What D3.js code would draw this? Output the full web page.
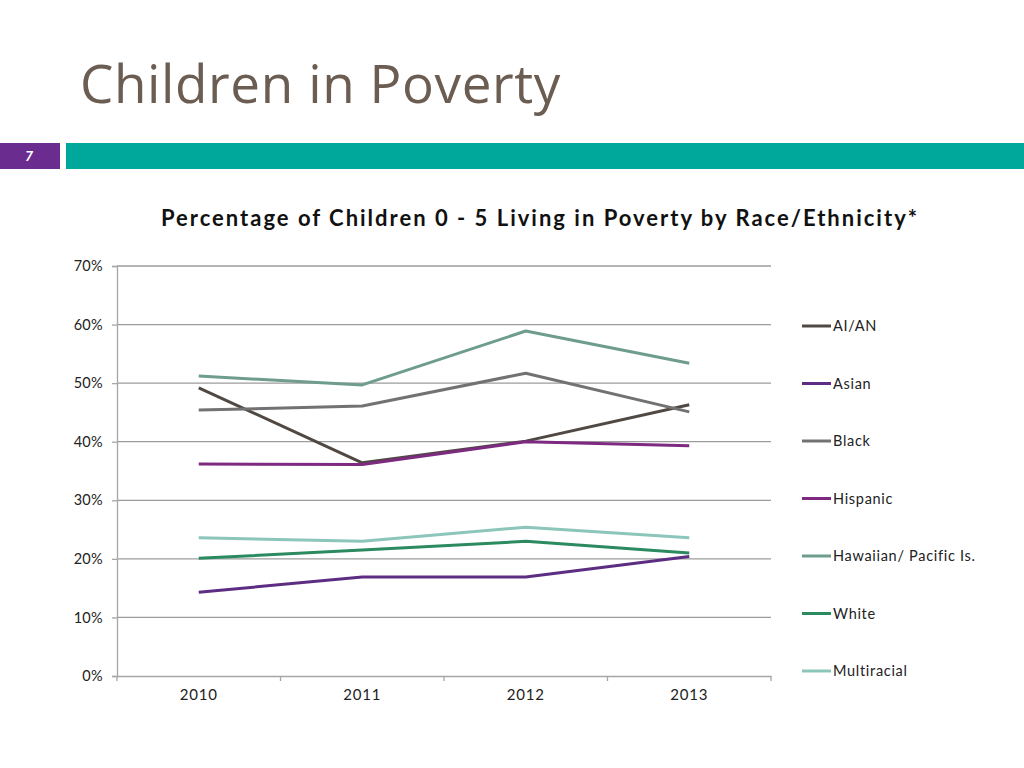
<!DOCTYPE html>
<html><head><meta charset="utf-8">
<script src="https://cdn.jsdelivr.net/npm/d3@7"></script>
<style>body{margin:0;background:#fff;}svg{display:block;}</style>
</head><body>
<svg id="c" width="1024" height="768"></svg>
<script>
const years = ["2010","2011","2012","2013"];
const seriesNames = ["AI/AN","Asian","Black","Hispanic","Hawaiian/ Pacific Is.","White","Multiracial"];
const aian = [49.2, 36.4, 40.1, 46.3];
const asian = [14.3, 16.9, 16.9, 20.4];
const black = [45.4, 46.1, 51.7, 45.1];
const hispanic = [36.2, 36.1, 40.0, 39.3];
const hawaiian = [51.2, 49.7, 58.9, 53.4];
const white = [20.1, 21.5, 23.0, 21.0];
const multiracial = [23.6, 23.0, 25.4, 23.6];
const yTicks = [0,10,20,30,40,50,60,70];
const colors = ["#4f4843","#5c2d82","#727272","#7d2a80","#6e9c8d","#2b8a5f","#8cc6ba"];

const values = [aian, asian, black, hispanic, hawaiian, white, multiracial];
const svg = d3.select("#c");
const font = "Lato, 'DejaVu Sans', sans-serif";

// header
svg.append("text").attr("x",80).attr("y",103).attr("font-family","'Open Sans', Lato, sans-serif")
  .attr("font-size",53).attr("letter-spacing",0.6).attr("fill","#6b5d52").text("Children in Poverty");
svg.append("rect").attr("x",0).attr("y",143).attr("width",60).attr("height",26).attr("fill","#6a2d8f");
svg.append("rect").attr("x",66).attr("y",143).attr("width",958).attr("height",26).attr("fill","#00a89c");
svg.append("text").attr("x",29).attr("y",161).attr("text-anchor","middle").attr("font-family",font)
  .attr("font-size",14).attr("font-weight","bold").attr("font-style","italic").attr("fill","#fff").text("7");

svg.append("text").attr("x",540).attr("y",226).attr("text-anchor","middle").attr("font-family",font)
  .attr("font-size",22).attr("letter-spacing",2.0).attr("font-weight","bold").attr("fill","#111")
  .text("Percentage of Children 0 - 5 Living in Poverty by Race/Ethnicity*");

const x = d3.scaleBand().domain(years).range([117,771]);
const y = d3.scaleLinear().domain([0,70]).range([676,266]);

// gridlines
svg.append("g").selectAll("line").data(yTicks.filter(d=>d>0)).join("line")
  .attr("x1",117).attr("x2",771).attr("y1",d=>y(d)).attr("y2",d=>y(d))
  .attr("stroke","#9c9c9c").attr("stroke-width",1.3);

// y axis
const ya = svg.append("g").attr("transform","translate(117,0)")
  .call(d3.axisLeft(y).tickValues(yTicks).tickFormat(d=>d+"%").tickSize(5).tickPadding(9));
ya.select(".domain").attr("stroke","#a6a6a6").attr("stroke-width",1.3);
ya.selectAll(".tick line").attr("stroke","#a6a6a6").attr("stroke-width",1.3);
ya.selectAll("text").attr("font-family",font).attr("font-size",14.5).attr("letter-spacing",0.3).attr("fill","#222");

// x axis
const xa = svg.append("g").attr("transform","translate(0,676)")
  .call(d3.axisBottom(x).tickSize(0).tickPadding(13));
xa.select(".domain").attr("stroke","#a6a6a6").attr("stroke-width",1.3);
xa.selectAll("text").attr("font-family",font).attr("font-size",15).attr("letter-spacing",0.8).attr("fill","#222");
xa.selectAll(".bnd").data(years.map(d=>x(d)).concat([x.range()[1]])).join("line")
  .attr("x1",d=>d).attr("x2",d=>d).attr("y1",0).attr("y2",5).attr("stroke","#a6a6a6").attr("stroke-width",1.3);

// lines
const line = d3.line().x((d,i)=>x(years[i])+x.bandwidth()/2).y(d=>y(d));
svg.append("g").selectAll("path").data(values).join("path")
  .attr("d",d=>line(d)).attr("fill","none")
  .attr("stroke",(d,i)=>colors[i]).attr("stroke-width",3).attr("stroke-linejoin","round");

// legend
const lg = svg.append("g").selectAll("g").data(seriesNames).join("g")
  .attr("transform",(d,i)=>`translate(802,${326 + i*57.5})`);
lg.append("line").attr("x1",0).attr("x2",29).attr("stroke",(d,i)=>colors[i]).attr("stroke-width",3);
lg.append("text").attr("x",31).attr("y",5).attr("font-family",font).attr("font-size",14.5)
  .attr("letter-spacing",0.7).attr("fill","#222").text(d=>d);
</script>
</body></html>
